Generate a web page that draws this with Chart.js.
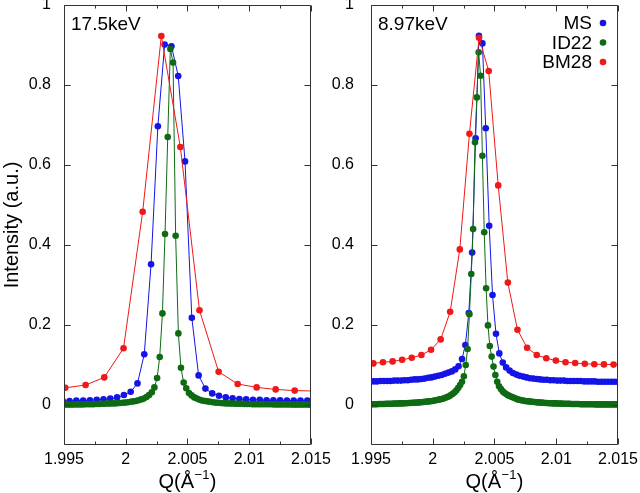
<!DOCTYPE html>
<html>
<head>
<meta charset="utf-8">
<script src="https://cdn.jsdelivr.net/npm/chart.js@4.4.1/dist/chart.umd.min.js"></script>
<style>
  body { margin: 0; background: #fff; }
  #wrap { position: relative; width: 640px; height: 493px; overflow: hidden; }
  canvas { position: absolute; top: 0; }
</style>
</head>
<body>
<div id="wrap">
  <canvas id="left" width="360" height="493" style="left:0"></canvas>
  <canvas id="right" width="320" height="493" style="left:320px"></canvas>
</div>
<script>
// axis ticks
const xTicks = [1.995, 2, 2.005, 2.01, 2.015];
const xTickLabels = ['1.995', '2', '2.005', '2.01', '2.015'];
const xMinorTicks = [1.9975, 2.0025, 2.0075, 2.0125];
const yTicks = [0, 0.2, 0.4, 0.6, 0.8, 1];
const yTickLabels = ['0', '0.2', '0.4', '0.6', '0.8', '1'];
const seriesNames = ['MS', 'ID22', 'BM28'];

// ---- 17.5 keV panel ----
const q17BM28 = [1.9951, 1.99675, 1.99826, 1.99982, 2.00137, 2.00288, 2.00442, 2.00597, 2.00752, 2.00906, 2.0106, 2.01214, 2.01368, 2.01522];
const bm28_17 = [0.043, 0.050, 0.069, 0.142, 0.483, 0.9225, 0.645, 0.237, 0.083, 0.0525, 0.044, 0.039, 0.036, 0.035];

const q17MS = [1.9949, 1.99545, 1.996, 1.99655, 1.9971, 1.99765, 1.9982, 1.99875, 1.9993, 1.99985,
  2.0004, 2.00095, 2.0015, 2.00205, 2.0026, 2.00315, 2.0037, 2.00425, 2.0048, 2.00535,
  2.0059, 2.00645, 2.007, 2.00755, 2.0081, 2.00865, 2.0092, 2.00975, 2.0103, 2.01085,
  2.0114, 2.01195, 2.0125, 2.01305, 2.0136, 2.01415, 2.0147, 2.01525];
const ms17 = [0.010, 0.010, 0.011, 0.011, 0.012, 0.013, 0.014, 0.016, 0.019, 0.025,
  0.033, 0.054, 0.127, 0.352, 0.697, 0.901, 0.897, 0.8225, 0.609, 0.218,
  0.074, 0.041, 0.029, 0.023, 0.019, 0.017, 0.015, 0.014, 0.013, 0.013,
  0.012, 0.012, 0.012, 0.011, 0.011, 0.011, 0.011, 0.011];

const q17ID22 = [1.99480, 1.99501, 1.99523, 1.99544, 1.99566, 1.99587, 1.99609, 1.99630, 1.99652, 1.99673,
  1.99695, 1.99716, 1.99738, 1.99759, 1.99781, 1.99802, 1.99824, 1.99845, 1.99867, 1.99888,
  1.99910, 1.99931, 1.99953, 1.99974, 1.99996, 2.00017, 2.00039, 2.00060, 2.00082, 2.00103,
  2.00125, 2.00146, 2.00168, 2.00189, 2.00211, 2.00232, 2.00254, 2.00275, 2.00297, 2.00318,
  2.00340, 2.00361, 2.00383, 2.00404, 2.00426, 2.00447, 2.00469, 2.00490, 2.00512, 2.00533,
  2.00555, 2.00576, 2.00598, 2.00619, 2.00641, 2.00662, 2.00684, 2.00705, 2.00727, 2.00748,
  2.00770, 2.00791, 2.00813, 2.00834, 2.00856, 2.00877, 2.00899, 2.00920, 2.00942, 2.00963,
  2.00985, 2.01006, 2.01028, 2.01049, 2.01071, 2.01092, 2.01114, 2.01135, 2.01157, 2.01178,
  2.01200, 2.01221, 2.01243, 2.01264, 2.01286, 2.01307, 2.01329, 2.01350, 2.01372, 2.01393,
  2.01415, 2.01436, 2.01458, 2.01479, 2.01501];
const id22_17 = [0.001, 0.001, 0.001, 0.001, 0.001, 0.0015, 0.0015, 0.0015, 0.0015, 0.002,
  0.002, 0.002, 0.002, 0.0025, 0.0025, 0.003, 0.003, 0.0035, 0.0035, 0.004,
  0.004, 0.0045, 0.005, 0.0055, 0.006, 0.007, 0.008, 0.009, 0.010, 0.012,
  0.014, 0.016, 0.020, 0.025, 0.032, 0.044, 0.0675, 0.12, 0.229, 0.4275,
  0.67, 0.89, 0.856, 0.423, 0.179, 0.093, 0.056, 0.042, 0.030, 0.024,
  0.019, 0.016, 0.013, 0.011, 0.010, 0.009, 0.008, 0.007, 0.006, 0.0055,
  0.005, 0.0045, 0.004, 0.004, 0.0035, 0.0035, 0.003, 0.003, 0.003, 0.0025,
  0.0025, 0.0025, 0.002, 0.002, 0.002, 0.002, 0.002, 0.002, 0.002, 0.002,
  0.0015, 0.0015, 0.0015, 0.0015, 0.0015, 0.0015, 0.0015, 0.001, 0.001, 0.001,
  0.001, 0.001, 0.001, 0.001, 0.001];

// ---- 8.97 keV panel ----
const q9BM28 = [1.99441, 1.99519, 1.99597, 1.99675, 1.99752, 1.9983, 1.99908, 1.99986, 2.00064, 2.00141,
  2.00219, 2.00297, 2.00375, 2.00453, 2.0053, 2.00608, 2.00686, 2.00764, 2.00842, 2.00919,
  2.00997, 2.01075, 2.01153, 2.01231, 2.01308, 2.01386, 2.01464, 2.01542];
const bm28_9 = [0.102, 0.104, 0.107, 0.109, 0.113, 0.118, 0.125, 0.138, 0.164, 0.233,
  0.389, 0.678, 0.918, 0.835, 0.549, 0.306, 0.188, 0.143, 0.125, 0.117,
  0.111, 0.107, 0.105, 0.103, 0.102, 0.1015, 0.101, 0.1005];

const q9MS = [1.99494, 1.99522, 1.99549, 1.99577, 1.99604, 1.99632, 1.99659, 1.99687, 1.99714, 1.99742,
  1.99769, 1.99797, 1.99824, 1.99852, 1.99879, 1.99907, 1.99934, 1.99962, 1.99989, 2.00017,
  2.00044, 2.00072, 2.00099, 2.00127, 2.00154, 2.00182, 2.00209, 2.00237, 2.00264, 2.00292,
  2.00319, 2.00347, 2.00374, 2.00402, 2.00429, 2.00457, 2.00484, 2.00512, 2.00539, 2.00567,
  2.00594, 2.00622, 2.00649, 2.00677, 2.00704, 2.00732, 2.00759, 2.00787, 2.00814, 2.00842,
  2.00869, 2.00897, 2.00924, 2.00952, 2.00979, 2.01007, 2.01034, 2.01062, 2.01089, 2.01117,
  2.01144, 2.01172, 2.01199, 2.01227, 2.01254, 2.01282, 2.01309, 2.01337, 2.01364, 2.01392,
  2.01419, 2.01447, 2.01474, 2.01502];
const ms9 = [0.059, 0.059, 0.059, 0.060, 0.060, 0.060, 0.060, 0.061, 0.061, 0.061,
  0.062, 0.062, 0.063, 0.064, 0.064, 0.065, 0.066, 0.068, 0.069, 0.071,
  0.073, 0.075, 0.078, 0.081, 0.084, 0.089, 0.097, 0.115, 0.150, 0.230,
  0.381, 0.667, 0.923, 0.904, 0.692, 0.448, 0.275, 0.178, 0.129, 0.106,
  0.094, 0.086, 0.080, 0.076, 0.073, 0.071, 0.069, 0.067, 0.066, 0.065,
  0.064, 0.063, 0.063, 0.062, 0.062, 0.061, 0.061, 0.061, 0.060, 0.060,
  0.060, 0.060, 0.060, 0.059, 0.059, 0.059, 0.059, 0.058, 0.058, 0.058,
  0.058, 0.058, 0.058, 0.058];

const q9ID22 = [1.99487, 1.99502, 1.99517, 1.99532, 1.99547, 1.99562, 1.99577, 1.99592, 1.99607, 1.99622,
  1.99637, 1.99652, 1.99667, 1.99682, 1.99697, 1.99712, 1.99727, 1.99742, 1.99757, 1.99772,
  1.99787, 1.99802, 1.99817, 1.99832, 1.99847, 1.99862, 1.99877, 1.99892, 1.99907, 1.99922,
  1.99937, 1.99952, 1.99967, 1.99982, 1.99997, 2.00012, 2.00027, 2.00042, 2.00057, 2.00072,
  2.00087, 2.00102, 2.00117, 2.00132, 2.00147, 2.00162, 2.00177, 2.00192, 2.00207, 2.00222,
  2.00237, 2.00252, 2.00267, 2.00282, 2.00297, 2.00312, 2.00327, 2.00342, 2.00357, 2.00372,
  2.00387, 2.00402, 2.00417, 2.00432, 2.00447, 2.00462, 2.00477, 2.00492, 2.00507, 2.00522,
  2.00537, 2.00552, 2.00567, 2.00582, 2.00597, 2.00612, 2.00627, 2.00642, 2.00657, 2.00672,
  2.00687, 2.00702, 2.00717, 2.00732, 2.00747, 2.00762, 2.00777, 2.00792, 2.00807, 2.00822,
  2.00837, 2.00852, 2.00867, 2.00882, 2.00897, 2.00912, 2.00927, 2.00942, 2.00957, 2.00972,
  2.00987, 2.01002, 2.01017, 2.01032, 2.01047, 2.01062, 2.01077, 2.01092, 2.01107, 2.01122,
  2.01137, 2.01152, 2.01167, 2.01182, 2.01197, 2.01212, 2.01227, 2.01242, 2.01257, 2.01272,
  2.01287, 2.01302, 2.01317, 2.01332, 2.01347, 2.01362, 2.01377, 2.01392, 2.01407, 2.01422,
  2.01437, 2.01452, 2.01467, 2.01482, 2.01497, 2.01512];
const id22_9 = [0.002, 0.002, 0.002, 0.002, 0.002, 0.0025, 0.0025, 0.0025, 0.0025, 0.003,
  0.003, 0.003, 0.003, 0.0035, 0.0035, 0.0035, 0.004, 0.004, 0.004, 0.0045,
  0.0045, 0.005, 0.005, 0.0055, 0.0055, 0.006, 0.006, 0.0065, 0.007, 0.0075,
  0.008, 0.0085, 0.009, 0.0095, 0.010, 0.011, 0.012, 0.013, 0.014, 0.015,
  0.016, 0.018, 0.020, 0.022, 0.025, 0.028, 0.032, 0.037, 0.043, 0.050,
  0.058, 0.072, 0.10, 0.14, 0.227, 0.3275, 0.44, 0.657, 0.769, 0.882,
  0.823, 0.623, 0.432, 0.292, 0.199, 0.1475, 0.121, 0.096, 0.075, 0.058,
  0.047, 0.040, 0.034, 0.030, 0.027, 0.024, 0.022, 0.020, 0.018, 0.016,
  0.014, 0.013, 0.012, 0.011, 0.010, 0.0095, 0.009, 0.0085, 0.008, 0.0075,
  0.007, 0.0065, 0.006, 0.006, 0.0055, 0.005, 0.005, 0.0045, 0.0045, 0.004,
  0.004, 0.004, 0.0035, 0.0035, 0.0035, 0.003, 0.003, 0.003, 0.003, 0.0025,
  0.0025, 0.0025, 0.0025, 0.0025, 0.002, 0.002, 0.002, 0.002, 0.002, 0.002,
  0.002, 0.002, 0.0015, 0.0015, 0.0015, 0.0015, 0.0015, 0.0015, 0.0015, 0.0015,
  0.0015, 0.0015, 0.0015, 0.0015, 0.0015, 0.0015];

const colors = { MS: '#1414e6', ID22: '#0f6a14', BM28: '#f01818' };
const FONT = '"Liberation Sans", Arial, Helvetica, sans-serif';

Chart.defaults.font.family = FONT;
Chart.defaults.color = '#000';

function pts(xs, ys) {
  return xs.map((x, i) => ({ x: x, y: ys[i] }));
}

function series(name, xs, ys) {
  return {
    label: name,
    data: pts(xs, ys),
    borderColor: colors[name],
    backgroundColor: colors[name],
    borderWidth: 1,
    pointRadius: 3.3,
    pointBorderWidth: 0,
    pointHoverRadius: 3.3,
    tension: 0
  };
}

// frame, inward ticks, panel label, x title and legend
const framePlugin = {
  id: 'frame',
  afterDatasetsDraw(chart, args, opts) {
    const { ctx, chartArea: a } = chart;
    const x = chart.scales.x, y = chart.scales.y;
    const L = Math.round(a.left) + 0.5, R = Math.round(a.right) - 0.5;
    const T = Math.round(a.top) + 0.5, B = Math.round(a.bottom) - 0.5;
    ctx.save();
    ctx.strokeStyle = '#333';
    ctx.lineWidth = 1;
    ctx.beginPath();
    ctx.rect(L, T, R - L, B - T);
    xTicks.forEach(v => {
      const px = Math.round(x.getPixelForValue(v)) + 0.5;
      ctx.moveTo(px, B); ctx.lineTo(px, B - 6);
      ctx.moveTo(px, T); ctx.lineTo(px, T + 6);
    });
    xMinorTicks.forEach(v => {
      const px = Math.round(x.getPixelForValue(v)) + 0.5;
      ctx.moveTo(px, B); ctx.lineTo(px, B - 3);
      ctx.moveTo(px, T); ctx.lineTo(px, T + 3);
    });
    yTicks.forEach(v => {
      const py = Math.round(y.getPixelForValue(v)) + 0.5;
      ctx.moveTo(L, py); ctx.lineTo(L + 6, py);
      ctx.moveTo(R, py); ctx.lineTo(R - 6, py);
    });
    ctx.stroke();

    ctx.fillStyle = '#000';
    ctx.font = '19px ' + FONT;
    ctx.textAlign = 'left';
    ctx.textBaseline = 'alphabetic';
    ctx.fillText(opts.title, a.left + 7, a.top + 25);

    // x title with superscript
    const big = '20px ' + FONT, small = '13px ' + FONT;
    const p1 = 'Q(Å', sup = '−1', p2 = ')';
    ctx.font = big; const w1 = ctx.measureText(p1).width, w3 = ctx.measureText(p2).width;
    ctx.font = small; const w2 = ctx.measureText(sup).width + 1;
    let tx = (a.left + a.right) / 2 - (w1 + w2 + w3) / 2;
    const by = 488;
    ctx.font = big; ctx.fillText(p1, tx, by); tx += w1;
    ctx.font = small; ctx.fillText(sup, tx + 0.5, by - 9); tx += w2;
    ctx.font = big; ctx.fillText(p2, tx, by);

    if (opts.legend) {
      ctx.font = '19px ' + FONT;
      seriesNames.forEach((name, i) => {
        ctx.fillStyle = '#000';
        ctx.textAlign = 'right';
        ctx.fillText(name, a.right - 26, a.top + 24 + i * 19.5);
        ctx.fillStyle = colors[name];
        ctx.beginPath();
        ctx.arc(a.right - 15, a.top + 18 + i * 19.5, 3.3, 0, Math.PI * 2);
        ctx.fill();
      });
    }
    ctx.restore();
  }
};

function makePanel(id, datasets, opt) {
  return new Chart(document.getElementById(id), {
    type: 'line',
    data: { datasets: datasets },
    options: {
      responsive: false,
      animation: false,
      devicePixelRatio: 1,
      layout: { padding: { top: 5, right: opt.padRight, left: 0, bottom: 0 } },
      plugins: {
        legend: { display: false },
        tooltip: { enabled: false },
        frame: { title: opt.title, legend: opt.legend }
      },
      scales: {
        x: {
          type: 'linear',
          min: 1.995,
          max: 2.015,
          grid: { display: false, drawTicks: false },
          border: { display: false },
          afterBuildTicks: s => { s.ticks = xTicks.map(v => ({ value: v })); },
          afterFit: s => { s.height = 48; s.paddingLeft = 0; s.paddingRight = 0; },
          ticks: {
            autoSkip: false, maxRotation: 0, minRotation: 0, padding: 5,
            font: { size: 16 },
            callback: (v, i) => xTickLabels[i]
          },
          title: { display: false }
        },
        y: {
          type: 'linear',
          min: -0.1,
          max: 1,
          grid: { display: false, drawTicks: false },
          border: { display: false },
          afterBuildTicks: s => { s.ticks = yTicks.map(v => ({ value: v })); },
          afterFit: s => { s.width = opt.yWidth; s.paddingTop = 0; s.paddingBottom = 0; },
          ticks: {
            padding: opt.yPad,
            font: { size: 16 },
            callback: (v, i) => yTickLabels[i]
          },
          title: {
            display: opt.yTitle, text: 'Intensity (a.u.)', font: { size: 20 },
            padding: { top: 0, bottom: 0 }
          }
        }
      }
    },
    plugins: [framePlugin]
  });
}

makePanel('left', [
  series('BM28', q17BM28, bm28_17),
  series('ID22', q17ID22, id22_17),
  series('MS', q17MS, ms17)
], { title: '17.5keV', legend: false, yTitle: true, yWidth: 64, yPad: 13, padRight: 49 });

makePanel('right', [
  series('BM28', q9BM28, bm28_9),
  series('ID22', q9ID22, id22_9),
  series('MS', q9MS, ms9)
], { title: '8.97keV', legend: true, yTitle: false, yWidth: 51, yPad: 17, padRight: 22 });
</script>
</body>
</html>
